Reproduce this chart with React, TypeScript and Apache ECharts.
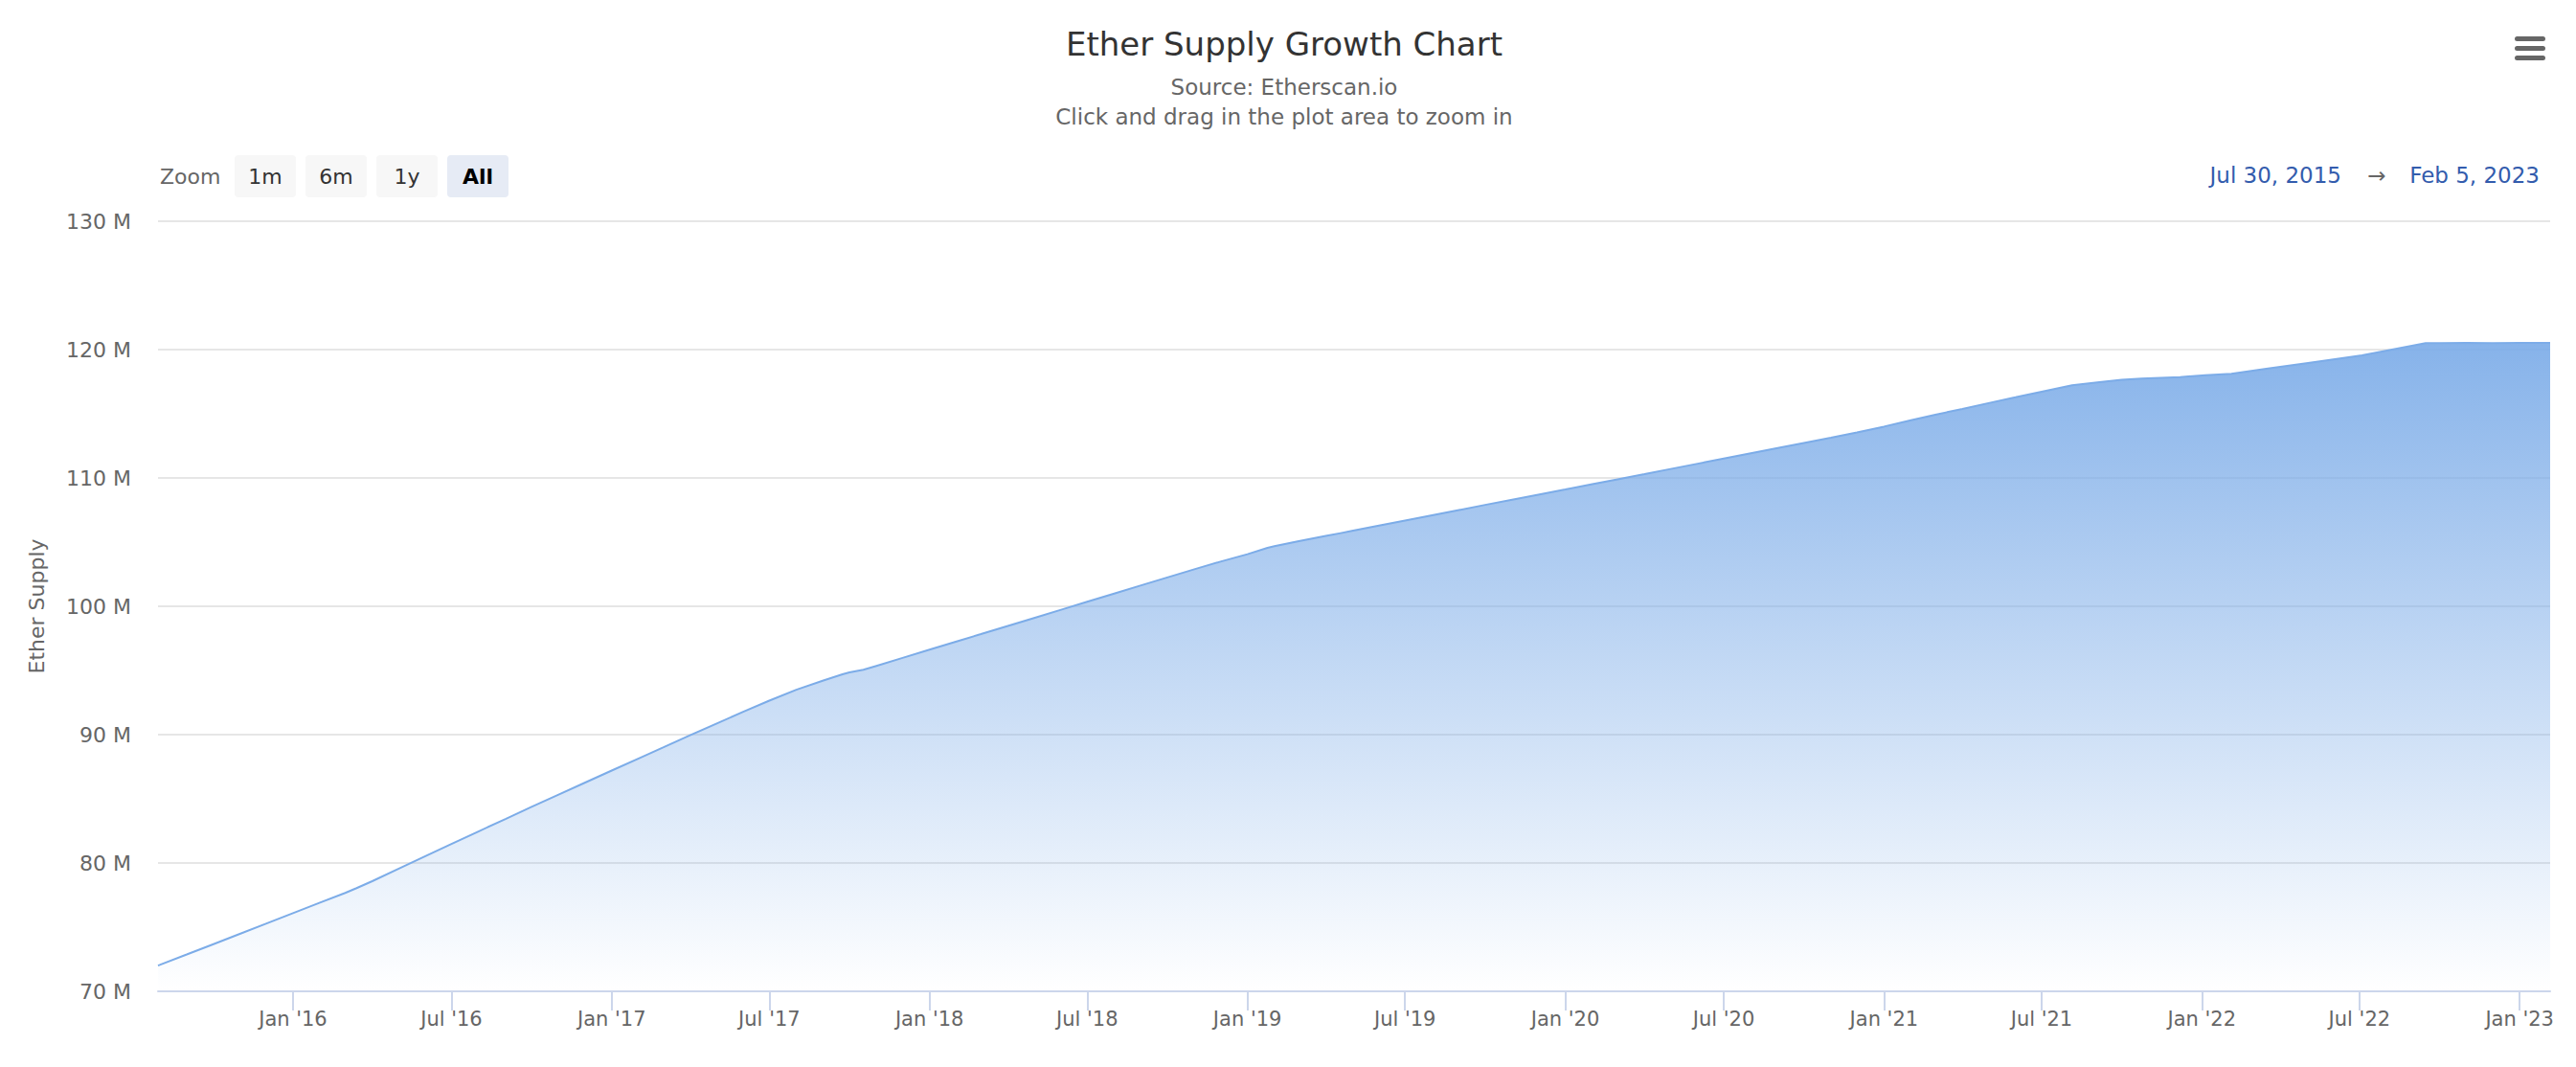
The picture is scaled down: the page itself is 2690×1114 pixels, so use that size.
import React, { useEffect, useRef } from "react";
import * as echarts from "echarts";

const TITLE = "Ether Supply Growth Chart";
const SUBTITLE_LINES = ["Source: Etherscan.io", "Click and drag in the plot area to zoom in"];
const ZOOM_LABEL = "Zoom";
const ZOOM_BUTTONS = ["1m", "6m", "1y", "All"];
const SELECTED_BUTTON = "All";
const RANGE_FROM = "Jul 30, 2015";
const RANGE_TO = "Feb 5, 2023";
const Y_AXIS_TITLE = "Ether Supply";

const dates = [
  "2015-07-30", "2015-08-01", "2015-09-01", "2015-10-01", "2015-11-01", "2015-12-01",
  "2016-01-01", "2016-02-01", "2016-03-01", "2016-03-14", "2016-04-01", "2016-05-01",
  "2016-06-01", "2016-07-01", "2016-08-01", "2016-09-01", "2016-10-01", "2016-11-01",
  "2016-12-01", "2017-01-01", "2017-02-01", "2017-03-01", "2017-04-01", "2017-05-01",
  "2017-06-01", "2017-07-01", "2017-08-01", "2017-09-01", "2017-09-23", "2017-10-01",
  "2017-10-17", "2017-11-01", "2017-12-01", "2018-01-01", "2018-02-01", "2018-03-01",
  "2018-04-01", "2018-05-01", "2018-06-01", "2018-07-01", "2018-08-01", "2018-09-01",
  "2018-10-01", "2018-11-01", "2018-12-01", "2019-01-01", "2019-01-24", "2019-02-01",
  "2019-03-01", "2019-04-01", "2019-04-18", "2019-05-01", "2019-06-01", "2019-07-01",
  "2019-08-01", "2019-09-01", "2019-10-01", "2019-11-01", "2019-12-01", "2020-01-01",
  "2020-02-01", "2020-03-01", "2020-04-01", "2020-05-01", "2020-06-01", "2020-07-01",
  "2020-08-01", "2020-09-01", "2020-10-01", "2020-11-01", "2020-12-01", "2021-01-01",
  "2021-02-01", "2021-03-01", "2021-04-01", "2021-05-01", "2021-06-01", "2021-07-01",
  "2021-08-05", "2021-09-03", "2021-10-01", "2021-10-24", "2021-12-07", "2022-01-05",
  "2022-02-04", "2022-03-16", "2022-05-03", "2022-07-04", "2022-09-15", "2022-10-01",
  "2022-11-01", "2022-12-01", "2023-01-01", "2023-02-05",
];

const supplyMillions = [
  72.01, 72.06, 72.87, 73.66, 74.48, 75.27,
  76.09, 76.91, 77.67, 78.04, 78.58, 79.54,
  80.53, 81.48, 82.46, 83.43, 84.37, 85.33,
  86.25, 87.2, 88.15, 89.0, 89.95, 90.85,
  91.78, 92.65, 93.5, 94.22, 94.7, 94.85,
  95.05, 95.36, 95.98, 96.62, 97.26, 97.83,
  98.47, 99.09, 99.73, 100.35, 100.99, 101.63,
  102.25, 102.88, 103.48, 104.06, 104.55, 104.68,
  105.08, 105.48, 105.7, 105.87, 106.28, 106.68,
  107.09, 107.5, 107.9, 108.31, 108.7, 109.1,
  109.51, 109.89, 110.3, 110.7, 111.11, 111.51,
  111.92, 112.33, 112.73, 113.14, 113.54, 114.0,
  114.5, 114.93, 115.38, 115.83, 116.28, 116.72,
  117.22, 117.44, 117.65, 117.74, 117.86, 118.0,
  118.11, 118.51, 118.96, 119.55, 120.5, 120.51,
  120.52, 120.51, 120.52, 120.52,
];

const xTickDates = [
  "2016-01-01", "2016-07-01", "2017-01-01", "2017-07-01", "2018-01-01",
  "2018-07-01", "2019-01-01", "2019-07-01", "2020-01-01", "2020-07-01",
  "2021-01-01", "2021-07-01", "2022-01-01", "2022-07-01", "2023-01-01",
];
const xTickLabels = [
  "Jan '16", "Jul '16", "Jan '17", "Jul '17", "Jan '18",
  "Jul '18", "Jan '19", "Jul '19", "Jan '20", "Jul '20",
  "Jan '21", "Jul '21", "Jan '22", "Jul '22", "Jan '23",
];
const yMin = 70;
const yMax = 130;
const yStep = 10;
const yUnit = " M";
const xStart = "2015-07-30";
const xEnd = "2023-02-05";

const FONT = "DejaVu Sans";

function toTime(s: string): number {
  const [y, m, d] = s.split("-").map(Number);
  return Date.UTC(y, m - 1, d);
}

export default function App() {
  const ref = useRef<HTMLDivElement>(null);

  useEffect(() => {
    if (!ref.current) return;
    const chart = echarts.init(ref.current, null, { renderer: "svg" });
    const tickTimes = xTickDates.map(toTime);
    const seriesData = dates.map((d, i) => [toTime(d), supplyMillions[i]]);

    const graphics: any[] = [];
    graphics.push({
      type: "text",
      style: { text: TITLE, x: 1341, y: 46, align: "center", verticalAlign: "middle", fill: "#333333", fontSize: 34, fontFamily: FONT },
    });
    SUBTITLE_LINES.forEach((t, i) => {
      graphics.push({
        type: "text",
        style: { text: t, x: 1341, y: 91 + i * 31, align: "center", verticalAlign: "middle", fill: "#666666", fontSize: 23, fontFamily: FONT },
      });
    });
    [38, 48, 58].forEach((y) => {
      graphics.push({ type: "rect", shape: { x: 2626, y, width: 32, height: 5, r: 2.5 }, style: { fill: "#666666" } });
    });
    graphics.push({
      type: "text",
      style: { text: ZOOM_LABEL, x: 167, y: 184, align: "left", verticalAlign: "middle", fill: "#666666", fontSize: 22, fontFamily: FONT },
    });
    ZOOM_BUTTONS.forEach((b, i) => {
      const x = 245 + i * 74;
      const sel = b === SELECTED_BUTTON;
      graphics.push({ type: "rect", shape: { x, y: 162, width: 64, height: 44, r: 4 }, style: { fill: sel ? "#e6ebf5" : "#f7f7f7" } });
      graphics.push({
        type: "text",
        style: { text: b, x: x + 32, y: 184, align: "center", verticalAlign: "middle", fill: sel ? "#000000" : "#333333", fontSize: 22, fontWeight: sel ? "bold" : "normal", fontFamily: FONT },
      });
    });
    graphics.push({
      type: "text",
      style: { text: RANGE_FROM, x: 2445, y: 183, align: "right", verticalAlign: "middle", fill: "#335cad", fontSize: 23, fontFamily: FONT },
    });
    graphics.push({
      type: "text",
      style: { text: "→", x: 2482, y: 183, align: "center", verticalAlign: "middle", fill: "#666666", fontSize: 23, fontFamily: FONT },
    });
    graphics.push({
      type: "text",
      style: { text: RANGE_TO, x: 2652, y: 183, align: "right", verticalAlign: "middle", fill: "#335cad", fontSize: 23, fontFamily: FONT },
    });

    chart.setOption({
      animation: false,
      backgroundColor: "#ffffff",
      textStyle: { fontFamily: FONT },
      grid: { left: 165, right: 27, top: 231, bottom: 79, outerBoundsMode: "none", containLabel: false },
      xAxis: {
        type: "value",
        min: toTime(xStart),
        max: toTime(xEnd),
        axisLine: { show: true, onZero: false, lineStyle: { color: "#ccd6eb", width: 2 } },
        axisTick: { show: true, length: 20, lineStyle: { color: "#ccd6eb", width: 2 }, customValues: tickTimes },
        axisLabel: {
          customValues: tickTimes,
          margin: 18,
          color: "#666666",
          fontSize: 21,
          fontFamily: FONT,
          hideOverlap: false,
          showMinLabel: true,
          showMaxLabel: true,
          formatter: (v: number) => {
            const idx = tickTimes.indexOf(v);
            return idx >= 0 ? xTickLabels[idx] : "";
          },
        },
        splitLine: { show: false },
      },
      yAxis: {
        type: "value",
        min: yMin,
        max: yMax,
        interval: yStep,
        name: Y_AXIS_TITLE,
        nameLocation: "middle",
        nameGap: 116,
        nameRotate: 90,
        nameTextStyle: { color: "#666666", fontSize: 22, fontFamily: FONT },
        axisLine: { show: false },
        axisTick: { show: false },
        axisLabel: { margin: 28, color: "#666666", fontSize: 22, fontFamily: FONT, formatter: (v: number) => `${v}${yUnit}` },
        splitLine: { lineStyle: { color: "#e6e6e6", width: 2 } },
      },
      series: [
        {
          type: "line",
          data: seriesData,
          showSymbol: false,
          symbol: "none",
          smooth: false,
          lineStyle: { color: "#7cace8", width: 2 },
          itemStyle: { color: "#7cace8" },
          areaStyle: {
            origin: "start",
            opacity: 1,
            color: new echarts.graphic.LinearGradient(0, 0, 0, 1, [
              { offset: 0, color: "rgba(124,172,232,0.92)" },
              { offset: 1, color: "rgba(124,172,232,0)" },
            ]),
          },
        },
      ],
      graphic: graphics,
    });

    return () => chart.dispose();
  }, []);

  return <div ref={ref} style={{ position: "absolute", left: 0, top: 0, width: 2690, height: 1114 }} />;
}
